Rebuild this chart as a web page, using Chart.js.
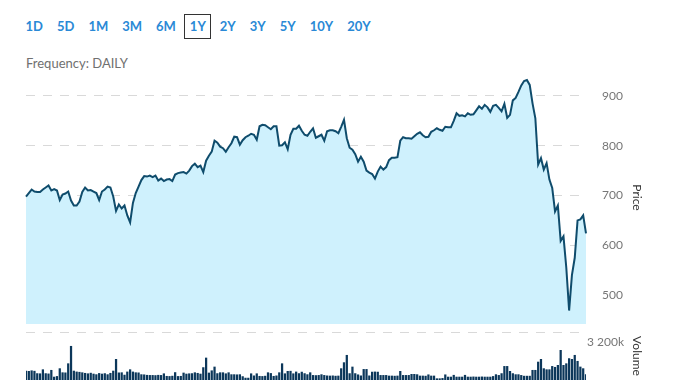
<!DOCTYPE html>
<html>
<head>
<meta charset="utf-8">
<script src="https://cdn.jsdelivr.net/npm/chart.js@4"></script>
<style>
  html, body { margin: 0; padding: 0; background: #fff; overflow: hidden; }
  body { width: 678px; height: 381px; position: relative; font-family: Lato, "Open Sans", sans-serif; }
  #ranges { position: absolute; left: 20px; top: 14px; display: flex; }
  #ranges span { color: #2a89d6; font-size: 13px; font-weight: bold; line-height: 23px; padding: 0 4.5px; margin-right: 3px; border: 1px solid transparent; }
  #ranges span.on { border-color: #333; }
  #freq { position: absolute; left: 26px; top: 55px; font-size: 13px; color: #707070; }
  #priceBox { position: absolute; left: 0; top: 50px; width: 678px; height: 284px; }
  #volBox { position: absolute; left: 0; top: 322px; width: 678px; height: 58px; }
</style>
</head>
<body>
<div id="ranges"></div>
<div id="freq">Frequency: DAILY</div>
<div id="priceBox"><canvas id="price"></canvas></div>
<div id="volBox"><canvas id="vol"></canvas></div>
<script>
// range buttons
const ranges = ["1D", "5D", "1M", "3M", "6M", "1Y", "2Y", "3Y", "5Y", "10Y", "20Y"];
const activeRange = "1Y";

// daily closing price, 1 year
const priceValues = [
  698,705,712,708,707,707,712,716,720,710,
  713,710,691,702,704,708,690,680,680,688,
  707,716,710,711,708,705,691,708,712,718,
  716,698,669,682,674,680,660,646,685,705,
  718,731,739,738,740,737,740,730,734,729,
  732,733,729,742,745,746,747,744,750,759,
  764,757,760,747,770,780,788,810,806,798,
  795,788,797,805,818,817,802,811,817,820,
  824,822,812,839,842,841,837,833,839,839,
  800,801,807,793,822,834,834,840,830,822,
  820,828,835,816,819,822,810,829,831,831,
  829,825,838,852,815,796,792,783,768,778,
  768,750,746,743,734,748,758,752,757,771,
  776,776,777,810,817,815,815,814,819,824,
  827,821,817,818,828,831,835,832,830,838,
  837,837,850,865,860,861,859,865,862,863,
  871,879,874,882,877,868,880,882,876,869,
  884,856,862,891,896,908,921,930,932,922,
  885,855,762,775,752,765,732,715,668,680,
  609,618,555,469,540,575,650,652,660,624
];

// daily volume, thousands
const volumeValues = [
  620,600,640,610,450,440,710,450,430,670,
  220,260,780,510,500,1110,2270,620,560,540,
  510,470,440,480,420,380,460,420,450,380,
  470,620,1400,500,510,350,560,710,560,510,
  500,380,370,340,330,330,320,340,330,440,
  270,260,280,520,260,270,490,420,440,450,
  510,470,420,850,1490,490,640,890,450,510,
  510,440,510,380,380,370,380,250,150,150,
  440,300,440,270,260,280,510,460,270,300,
  510,1110,440,600,610,440,560,450,550,450,
  380,510,330,320,330,380,330,300,290,300,
  280,290,780,1180,1670,450,890,450,370,300,
  730,730,300,550,560,550,330,330,330,290,
  290,280,290,600,330,330,330,400,400,380,
  290,290,280,370,290,290,110,110,130,370,
  220,220,340,220,220,220,340,220,220,230,
  220,220,230,220,220,220,260,380,330,450,
  930,930,600,450,380,380,330,280,280,280,
  670,670,1220,1400,780,710,710,930,870,1000,
  2000,1000,1110,1450,1400,1670,1270,890,780,380
];

const days = priceValues.map((v, i) => i + 1);
const priceTicks = [500, 600, 700, 800, 900];
const volumeTicks = [3200];

///////////////////////////////////////////

const rangeBox = document.getElementById("ranges");
ranges.forEach(r => {
  const s = document.createElement("span");
  s.textContent = r;
  if (r === activeRange) s.className = "on";
  rangeBox.appendChild(s);
});

const gridColor = "#d9d9d9";
const tickFont = { size: 12, family: "Lato" };

// keep the right axis the same width on both charts
function fixAxis(scale) {
  scale.width = 62;
  scale.paddingTop = 0;
  scale.paddingBottom = 0;
}

const priceChart = new Chart(document.getElementById("price"), {
  type: "line",
  data: {
    labels: days,
    datasets: [{
      data: priceValues,
      borderColor: "#0f4c6c",
      borderWidth: 2,
      backgroundColor: "#cff1fd",
      fill: "start",
      pointRadius: 0,
      tension: 0
    }]
  },
  options: {
    animation: false,
    responsive: true,
    maintainAspectRatio: false,
    layout: { padding: { left: 26, right: 30, top: 21, bottom: 10 } },
    plugins: { legend: { display: false }, tooltip: { enabled: false } },
    scales: {
      x: { display: false },
      y: {
        position: "right",
        min: 442,
        max: 950,
        afterBuildTicks: s => { s.ticks = priceTicks.map(v => ({ value: v })); },
        afterFit: fixAxis,
        grid: { color: gridColor, drawTicks: false },
        border: { display: false, dash: [9, 8] },
        ticks: { padding: 16, color: "#777", font: tickFont },
        title: { display: true, text: "Price", color: "#333", font: tickFont, padding: { top: 4, bottom: 4 } }
      }
    }
  }
});

const volChart = new Chart(document.getElementById("vol"), {
  type: "bar",
  data: {
    labels: days,
    datasets: [{
      data: volumeValues,
      backgroundColor: "#0c375a",
      borderWidth: 0,
      barPercentage: 0.8,
      categoryPercentage: 1
    }]
  },
  options: {
    animation: false,
    responsive: true,
    maintainAspectRatio: false,
    layout: { padding: { left: 26, right: 30, top: 10, bottom: 0 } },
    plugins: { legend: { display: false }, tooltip: { enabled: false } },
    scales: {
      x: { display: false, offset: false },
      y: {
        position: "right",
        min: 0,
        max: 3200,
        afterBuildTicks: s => { s.ticks = volumeTicks.map(v => ({ value: v })); },
        afterFit: fixAxis,
        grid: { color: gridColor, drawTicks: false },
        border: { display: false, dash: [9, 8] },
        ticks: {
          padding: 1,
          labelOffset: 10,
          color: "#777",
          font: tickFont,
          callback: v => String(v).replace(/\B(?=(\d{3})+(?!\d))/g, " ") + "k"
        },
        title: { display: true, text: "Volume", color: "#333", font: tickFont, padding: { top: 4, bottom: 4 } }
      }
    }
  }
});
</script>
</body>
</html>
